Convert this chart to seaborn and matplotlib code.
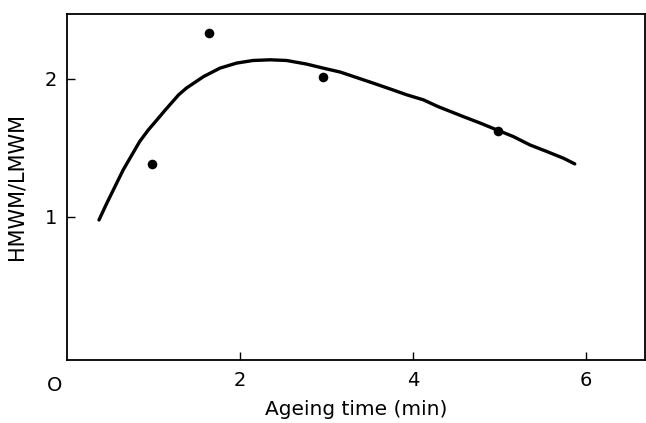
import matplotlib
matplotlib.use("Agg")
import matplotlib.pyplot as plt
import seaborn as sns
import pandas as pd

# Measured data points
point_time = [0.98, 1.64, 2.96, 4.98]
point_ratio = [1.38, 2.33, 2.01, 1.62]

# Fitted curve
curve_time = [0.37, 0.46, 0.555, 0.65, 0.75, 0.84, 0.94, 1.04, 1.13, 1.29, 1.38,
              1.58, 1.77, 1.96, 2.15, 2.35, 2.54, 2.77, 2.96, 3.16, 3.35, 3.54,
              3.73, 3.93, 4.12, 4.29, 4.58, 4.78, 4.97, 5.16, 5.35, 5.55, 5.74, 5.87]
curve_ratio = [0.978, 1.099, 1.220, 1.341, 1.449, 1.546, 1.630, 1.703, 1.770, 1.884, 1.933,
               2.017, 2.078, 2.114, 2.133, 2.138, 2.133, 2.107, 2.078, 2.049, 2.009, 1.969,
               1.928, 1.884, 1.848, 1.799, 1.727, 1.679, 1.630, 1.582, 1.522, 1.473, 1.425, 1.384]

x_ticks = [2, 4, 6]
y_ticks = [1, 2]

sns.set_theme(style="white")
plt.rcParams['font.family'] = ['DejaVu Sans']

fig = plt.figure(figsize=(6.46, 4.23), dpi=100)
ax = fig.add_axes([0.1037, 0.149, 0.8945, 0.818])

pts = pd.DataFrame({"t": point_time, "r": point_ratio})
crv = pd.DataFrame({"t": curve_time, "r": curve_ratio})

sns.lineplot(data=crv, x="t", y="r", ax=ax, color="black", linewidth=2.4,
             sort=False, estimator=None)
sns.scatterplot(data=pts, x="t", y="r", ax=ax, color="black", s=48,
                edgecolor="black", linewidth=0, zorder=3)

ax.set_xlim(0, 6.68)
ax.set_ylim(-0.036, 2.47)
ax.set_xticks(x_ticks)
ax.set_yticks(y_ticks)
ax.set_xticklabels([str(v) for v in x_ticks])
ax.set_yticklabels([str(v) for v in y_ticks])
ax.tick_params(axis="x", direction="in", length=6, width=1.0,
               labelsize=14, colors="black", pad=8)
ax.tick_params(axis="y", direction="in", length=6, width=1.0,
               labelsize=14, colors="black", pad=7)
ax.tick_params(axis="both", bottom=True, left=True)
for s in ax.spines.values():
    s.set_color("black")
    s.set_linewidth(1.3)

ax.set_xlabel("Ageing time (min)", fontsize=14.5, labelpad=7, color="black")
ax.set_ylabel("HMWM/LMWM", fontsize=15, labelpad=13, color="black")
ax.text(-0.14, -0.22, "O", transform=ax.transData, fontsize=14,
        ha="center", va="center", clip_on=False, color="black")

fig.savefig("out.png", dpi=100)
